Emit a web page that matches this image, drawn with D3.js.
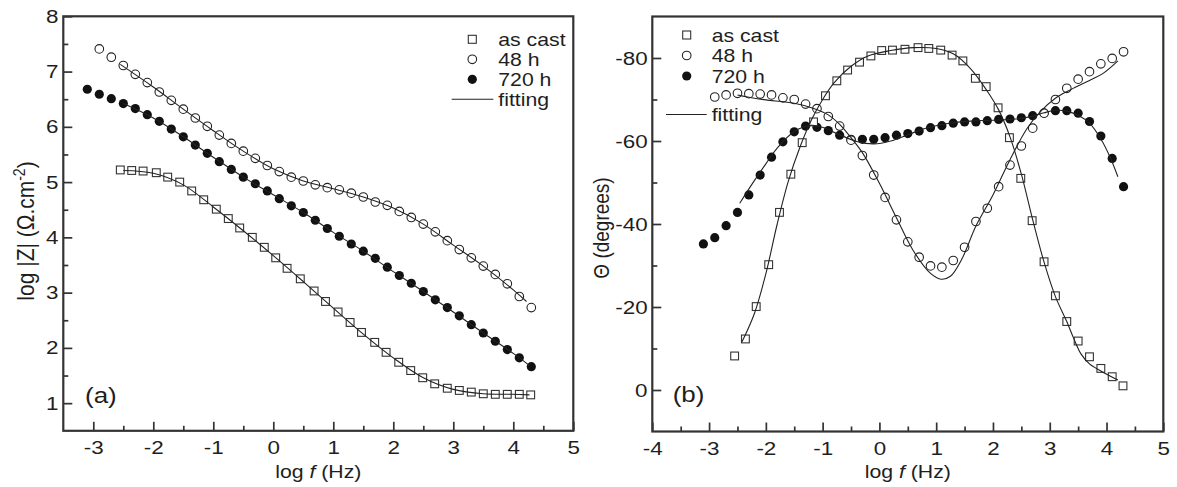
<!DOCTYPE html>
<html>
<head>
<meta charset="utf-8">
<script src="https://cdn.jsdelivr.net/npm/d3@7"></script>
<style>
  html, body { margin: 0; padding: 0; background: #fff; }
  svg { display: block; font-family: "Liberation Sans", Arial, sans-serif; }
</style>
</head>
<body>
<script>
// data
const logF_asCast = [-2.55, -2.36, -2.17, -1.95, -1.76, -1.56, -1.36, -1.16, -0.95, -0.75, -0.56, -0.35, -0.15,
  0.04, 0.23, 0.45, 0.68, 0.87, 1.08, 1.28, 1.47, 1.69, 1.88, 2.09, 2.29, 2.49, 2.69, 2.90, 3.10, 3.30, 3.50,
  3.70, 3.90, 4.10, 4.29];
const logF_48h = [-2.9, -2.7, -2.5, -2.3, -2.1, -1.9, -1.7, -1.5, -1.3, -1.1, -0.9, -0.7, -0.5, -0.3, -0.1,
  0.1, 0.3, 0.5, 0.7, 0.9, 1.1, 1.3, 1.5, 1.7, 1.9, 2.1, 2.3, 2.5, 2.7, 2.9, 3.1, 3.3, 3.5, 3.7, 3.9, 4.1, 4.3];
const logF_720h = [-3.1, -2.9, -2.7, -2.5, -2.3, -2.1, -1.9, -1.7, -1.5, -1.3, -1.1, -0.9, -0.7, -0.5, -0.3, -0.1,
  0.1, 0.3, 0.5, 0.7, 0.9, 1.1, 1.3, 1.5, 1.7, 1.9, 2.1, 2.3, 2.5, 2.7, 2.9, 3.1, 3.3, 3.5, 3.7, 3.9, 4.1, 4.3];

const logZ_asCast = [5.22, 5.21, 5.20, 5.17, 5.09, 5.00, 4.84, 4.68, 4.51, 4.34, 4.17, 4.00, 3.82, 3.63, 3.44,
  3.25, 3.03, 2.84, 2.65, 2.46, 2.28, 2.10, 1.92, 1.74, 1.59, 1.46, 1.35, 1.27, 1.23, 1.20, 1.17, 1.16, 1.16,
  1.16, 1.15];
const logZ_48h = [7.41, 7.26, 7.11, 6.95, 6.80, 6.63, 6.48, 6.32, 6.16, 6.01, 5.85, 5.70, 5.56, 5.43, 5.30,
  5.19, 5.09, 5.02, 4.95, 4.90, 4.86, 4.80, 4.73, 4.64, 4.58, 4.47, 4.36, 4.24, 4.10, 3.94, 3.78, 3.63, 3.48,
  3.33, 3.16, 2.93, 2.73];
const logZ_720h = [6.68, 6.59, 6.51, 6.42, 6.33, 6.22, 6.10, 5.96, 5.82, 5.67, 5.52, 5.37, 5.23, 5.09, 4.97,
  4.84, 4.70, 4.57, 4.45, 4.31, 4.16, 4.02, 3.88, 3.75, 3.62, 3.46, 3.31, 3.17, 3.02, 2.87, 2.73, 2.58, 2.42,
  2.27, 2.12, 1.97, 1.82, 1.66];

const theta_asCast = [-8.2, -12.3, -20.1, -30.2, -42.8, -52.0, -59.6, -64.6, -70.9, -74.5, -77.1, -79.0, -80.5,
  -81.8, -81.9, -82.1, -82.5, -82.3, -81.9, -80.7, -79.3, -75.1, -73.1, -68.0, -60.8, -51.0, -40.8, -30.9,
  -22.7, -16.5, -11.8, -8.0, -5.2, -3.2, -1.0];
const theta_48h = [-70.6, -71.1, -71.5, -71.4, -71.3, -71.1, -70.4, -70.0, -68.9, -67.8, -65.9, -63.6, -60.2,
  -56.5, -51.8, -46.4, -41.0, -35.7, -32.0, -29.9, -29.6, -31.2, -34.4, -40.6, -43.8, -49.0, -54.2, -58.8,
  -63.1, -66.7, -70.0, -72.7, -74.9, -76.7, -78.6, -79.9, -81.5];
const theta_720h = [-35.2, -36.7, -39.6, -42.8, -47.0, -51.8, -56.1, -59.8, -62.2, -63.6, -63.3, -62.5, -61.4,
  -60.4, -60.4, -60.4, -60.8, -61.4, -61.8, -62.4, -63.2, -63.7, -64.3, -64.6, -64.6, -64.9, -65.2, -65.3,
  -65.6, -66.1, -66.7, -67.3, -67.3, -66.7, -64.7, -61.2, -55.8, -49.0];

// fitted curves [log f, value]
const fitZ_asCast = [[-2.5, 5.21], [-2.0, 5.16], [-1.5, 4.95], [-1.0, 4.55], [-0.5, 4.12], [0, 3.67],
  [0.5, 3.20], [1.0, 2.72], [1.5, 2.25], [2.0, 1.82], [2.5, 1.46], [3.0, 1.25], [3.5, 1.17], [4.0, 1.16], [4.27, 1.15]];
const fitZ_48h = [[-2.55, 7.13], [-2.0, 6.72], [-1.5, 6.32], [-1.0, 5.93], [-0.5, 5.56], [0, 5.24], [0.5, 5.02],
  [1.0, 4.88], [1.5, 4.73], [2.0, 4.53], [2.5, 4.24], [3.0, 3.86], [3.5, 3.48], [4.0, 3.05], [4.22, 2.84]];
const fitZ_720h = [[-2.5, 6.42], [-2.0, 6.16], [-1.5, 5.82], [-1.0, 5.45], [-0.5, 5.09], [0, 4.77], [0.5, 4.45],
  [1.0, 4.09], [1.5, 3.75], [2.0, 3.38], [2.5, 3.02], [3.0, 2.65], [3.5, 2.27], [4.0, 1.90], [4.27, 1.68]];

const fitT_asCast = [[-2.42, -11.6], [-2.2, -18.5], [-2.0, -28.0], [-1.8, -40.0], [-1.6, -50.5], [-1.4, -58.5],
  [-1.2, -65.0], [-1.0, -70.0], [-0.8, -74.0], [-0.5, -78.0], [-0.2, -80.5], [0.2, -81.8], [0.6, -82.5],
  [1.0, -82.3], [1.3, -81.0], [1.6, -77.5], [1.9, -72.0], [2.1, -67.5], [2.3, -61.0], [2.5, -52.0],
  [2.7, -41.0], [2.9, -30.8], [3.1, -22.5], [3.3, -16.5], [3.42, -12.5], [3.55, -8.7], [3.7, -6.3],
  [3.9, -4.6], [4.2, -2.4]];
const fitT_48h = [[-2.5, -71.1], [-2.2, -70.3], [-2.0, -69.9], [-1.5, -69.1], [-1.17, -67.9], [-0.9, -66.3],
  [-0.7, -64.0], [-0.5, -60.8], [-0.3, -57.2], [0, -49.8], [0.3, -41.5], [0.6, -33.5], [0.9, -28.1],
  [1.09, -26.7], [1.25, -27.4], [1.45, -31.5], [1.7, -39.5], [2.0, -47.0], [2.3, -55.5], [2.6, -63.0],
  [2.83, -67.0], [3.1, -70.3], [3.36, -72.3], [3.7, -74.6], [3.94, -76.3], [4.2, -79.3]];
const fitT_720h = [[-2.46, -45.0], [-2.2, -50.5], [-2.0, -54.5], [-1.8, -58.3], [-1.5, -62.3], [-1.2, -63.8],
  [-1.0, -63.3], [-0.7, -61.5], [-0.4, -59.9], [-0.1, -59.3], [0.2, -60.0], [0.5, -61.5], [0.8, -63.0],
  [1.2, -64.2], [1.6, -64.8], [2.0, -65.0], [2.4, -65.3], [2.7, -66.0], [2.9, -66.8], [3.1, -67.4],
  [3.3, -67.2], [3.5, -66.2], [3.7, -64.3], [3.9, -60.5], [4.05, -56.5], [4.2, -51.4]];

const legendLabels = ["as cast", "48 h", "720 h", "fitting"];
const xTicksA = [-3, -2, -1, 0, 1, 2, 3, 4, 5];
const yTicksA = [1, 2, 3, 4, 5, 6, 7, 8];
const xTicksB = [-4, -3, -2, -1, 0, 1, 2, 3, 4, 5];
const yTicksB = [0, -20, -40, -60, -80];

const W = 1177, H = 487;
const SX = 1.18;        // the source figure is stretched sideways
const INK = "#1e1e1e";

const svg = d3.select("body").append("svg").attr("width", W).attr("height", H);

function zip(xs, ys) { return xs.map((x, i) => [x, ys[i]]); }

function stretchedText(g, x, y, txt, size, anchor) {
  return g.append("g")
      .attr("transform", `translate(${x},${y}) scale(${SX},1)`)
    .append("text")
      .attr("text-anchor", anchor || "start")
      .attr("font-size", size)
      .attr("fill", INK)
      .text(txt);
}

function drawPanel(p) {
  const g = svg.append("g");
  const x = p.x, y = p.y;
  const [x0, x1] = x.range(), [y0, y1] = y.range();

  // minor ticks first
  g.append("g").attr("transform", `translate(0,${y0})`)
    .call(d3.axisBottom(x).tickValues(p.xMinor).tickSizeInner(-5).tickSizeOuter(0).tickFormat(""))
    .call(a => a.select(".domain").remove());
  g.append("g").attr("transform", `translate(${x0},0)`)
    .call(d3.axisLeft(y).tickValues(p.yMinor).tickSizeInner(-5).tickSizeOuter(0).tickFormat(""))
    .call(a => a.select(".domain").remove());

  // plain hyphen labels like the source, not the unicode minus
  const xa = g.append("g").attr("transform", `translate(0,${y0})`)
    .call(d3.axisBottom(x).tickValues(p.xTicks).tickSizeInner(-9).tickSizeOuter(0).tickPadding(10)
      .tickFormat(d => String(d)));
  const ya = g.append("g").attr("transform", `translate(${x0},0)`)
    .call(d3.axisLeft(y).tickValues(p.yTicks).tickSizeInner(-9).tickSizeOuter(0).tickPadding(4)
      .tickFormat(d => String(d)));
  [xa, ya].forEach(a => {
    a.attr("font-family", null).attr("font-size", null);
    a.select(".domain").remove();
    a.selectAll("text").attr("font-size", 19).attr("fill", INK)
      .attr("transform", `scale(${SX},1)`);
  });
  g.selectAll("g").attr("font-family", null);
  g.selectAll(".tick line").attr("stroke", "#333").attr("stroke-width", 1.7);

  g.append("rect")
    .attr("x", x0).attr("y", y1).attr("width", x1 - x0).attr("height", y0 - y1)
    .attr("fill", "none").attr("stroke", "#333").attr("stroke-width", 2.2);

  // points: filled circles, then open circles, then squares
  g.append("g").selectAll("circle").data(zip(p.f720, p.v720)).join("circle")
    .attr("cx", d => x(d[0])).attr("cy", d => y(d[1])).attr("r", 4.6).attr("fill", "#111");
  g.append("g").selectAll("circle").data(zip(p.f48, p.v48)).join("circle")
    .attr("cx", d => x(d[0])).attr("cy", d => y(d[1])).attr("r", 4.3)
    .attr("fill", "#fff").attr("stroke", "#222").attr("stroke-width", 1.1);
  g.append("g").selectAll("rect").data(zip(p.fCast, p.vCast)).join("rect")
    .attr("x", d => x(d[0]) - 3.9).attr("y", d => y(d[1]) - 3.9).attr("width", 7.8).attr("height", 7.8)
    .attr("fill", "#fff").attr("stroke", "#333").attr("stroke-width", 1.1);

  const line = d3.line().x(d => x(d[0])).y(d => y(d[1])).curve(d3.curveCatmullRom.alpha(0.5));
  g.append("g").selectAll("path").data(p.fits).join("path")
    .attr("d", line).attr("fill", "none").attr("stroke", "#222").attr("stroke-width", 1.1);

  // legend
  const L = p.legend;
  const lg = g.append("g");
  lg.append("rect").attr("x", L.sx - 4).attr("y", L.rows[0] - 4).attr("width", 8).attr("height", 8)
    .attr("fill", "#fff").attr("stroke", "#333").attr("stroke-width", 1.1);
  lg.append("circle").attr("cx", L.sx).attr("cy", L.rows[1]).attr("r", 4.3)
    .attr("fill", "#fff").attr("stroke", "#222").attr("stroke-width", 1.1);
  lg.append("circle").attr("cx", L.sx).attr("cy", L.rows[2]).attr("r", 4.6).attr("fill", "#111");
  lg.append("line").attr("x1", L.lx[0]).attr("x2", L.lx[1]).attr("y1", L.rows[3]).attr("y2", L.rows[3])
    .attr("stroke", "#222").attr("stroke-width", 1.1);
  legendLabels.forEach((t, i) => stretchedText(lg, L.tx, L.rows[i] + 6.5, t, 18));

  stretchedText(g, p.tag[0], p.tag[1], p.tag[2], 22);

  // x title with italic f
  const xt = g.append("g")
      .attr("transform", `translate(${(x0 + x1) / 2},478) scale(${SX},1)`)
    .append("text").attr("text-anchor", "middle").attr("font-size", 18).attr("fill", INK);
  xt.append("tspan").text("log ");
  xt.append("tspan").attr("font-style", "italic").text("f");
  xt.append("tspan").text(" (Hz)");

  const yt = g.append("g")
      .attr("transform", `translate(${p.yTitle[0]},${p.yTitle[1]}) scale(${SX},1) rotate(-90)`)
    .append("text").attr("text-anchor", "middle").attr("font-size", p.yTitle[2]).attr("fill", INK);
  p.yTitleParts(yt);
}

drawPanel({
  x: d3.scaleLinear([-3.5, 5], [63.3, 573.3]),
  y: d3.scaleLinear([0.5, 8], [430.8, 16.3]),
  xTicks: xTicksA, yTicks: yTicksA,
  xMinor: [-2.5, -1.5, -0.5, 0.5, 1.5, 2.5, 3.5, 4.5],
  yMinor: [1.5, 2.5, 3.5, 4.5, 5.5, 6.5, 7.5],
  fCast: logF_asCast, vCast: logZ_asCast,
  f48: logF_48h, v48: logZ_48h,
  f720: logF_720h, v720: logZ_720h,
  fits: [fitZ_asCast, fitZ_48h, fitZ_720h],
  legend: { sx: 472.3, tx: 498.3, rows: [39.3, 59.3, 79.3, 99.3], lx: [451.7, 493.3] },
  tag: [85, 403, "(a)"],
  yTitle: [34, 231, 21],
  yTitleParts: t => {
    t.append("tspan").text("log |Z| (\u03A9.cm");
    t.append("tspan").attr("font-size", 14).attr("dy", -8).text("-2");
    t.append("tspan").attr("dy", 8).text(")");
  }
});

drawPanel({
  x: d3.scaleLinear([-4, 5], [652.3, 1163.3]),
  y: d3.scaleLinear([10, -90], [431.5, 16.5]),
  xTicks: xTicksB, yTicks: yTicksB,
  xMinor: [-3.5, -2.5, -1.5, -0.5, 0.5, 1.5, 2.5, 3.5, 4.5],
  yMinor: [-10, -30, -50, -70],
  fCast: logF_asCast, vCast: theta_asCast,
  f48: logF_48h, v48: theta_48h,
  f720: logF_720h, v720: theta_720h,
  fits: [fitT_asCast, fitT_48h, fitT_720h],
  legend: { sx: 686.7, tx: 711.7, rows: [35, 55.5, 76, 114.5], lx: [666, 706.7] },
  tag: [672.7, 402, "(b)"],
  yTitle: [609, 228, 19],
  yTitleParts: t => t.text("\u0398 (degrees)")
});
</script>
</body>
</html>
